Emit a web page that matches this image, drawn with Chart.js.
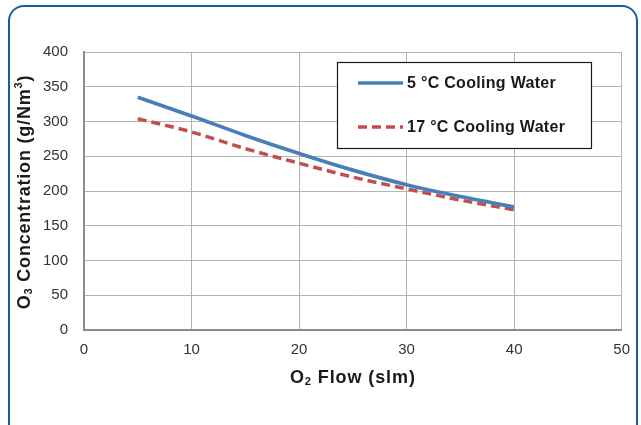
<!DOCTYPE html>
<html>
<head>
<meta charset="utf-8">
<script src="https://cdn.jsdelivr.net/npm/chart.js@4.4.0/dist/chart.umd.min.js"></script>
<style>
  html, body { margin: 0; padding: 0; background: #fff; }
  #wrap { width: 641px; height: 425px; }
</style>
</head>
<body>
<div id="wrap"><canvas id="chart1" width="641" height="425"></canvas></div>
<script>
// values
var flow = [5, 10, 15, 20, 25, 30, 35, 40];
var water5 = [335, 308, 280, 254, 230, 209, 192, 177];
var water17 = [304, 285, 261, 240, 220, 203, 187, 173];
var seriesNames = ['5 \u00B0C Cooling Water', '17 \u00B0C Cooling Water'];
var xTicks = [0, 10, 20, 30, 40, 50];
var yTicks = [0, 50, 100, 150, 200, 250, 300, 350, 400];

function toPoints(xs, ys){
    var pts = [];
    for(var i = 0; i < xs.length; i++){
        pts.push({x: xs[i], y: ys[i]});
    }
    return pts;
}

// subscripted / superscripted text, drawn piece by piece
function drawRich(ctx, parts, x, y, size, spacing){
    ctx.letterSpacing = spacing + 'px';
    var total = 0;
    for(var i = 0; i < parts.length; i++){
        var s = parts[i][1] ? size * 0.62 : size;
        ctx.font = 'bold ' + s + 'px "Liberation Sans", Arial, sans-serif';
        total += ctx.measureText(parts[i][0]).width;
    }
    var cx = x - total / 2;
    for(var j = 0; j < parts.length; j++){
        var p = parts[j];
        var sz = p[1] ? size * 0.62 : size;
        ctx.font = 'bold ' + sz + 'px "Liberation Sans", Arial, sans-serif';
        var dy = 0;
        if(p[1] == 'sub') dy = size * 0.22;
        if(p[1] == 'sup') dy = -size * 0.32;
        ctx.fillText(p[0], cx, y + dy);
        cx += ctx.measureText(p[0]).width;
    }
    ctx.letterSpacing = '0px';
}

var extras = {
    id: 'extras',
    beforeDraw: function(chart){
        var ctx = chart.ctx;
        ctx.save();
        ctx.strokeStyle = '#1b5e94';
        ctx.lineWidth = 2;
        ctx.beginPath();
        ctx.roundRect(9, 6, 628, 440, 15);
        ctx.stroke();
        ctx.restore();
    },
    afterDraw: function(chart){
        var ctx = chart.ctx;
        var area = chart.chartArea;
        ctx.save();
        ctx.fillStyle = '#1a1a1a';
        ctx.textBaseline = 'middle';
        ctx.textAlign = 'left';
        // x axis title
        drawRich(ctx, [['O'], ['2', 'sub'], [' Flow (slm)']], (area.left + area.right) / 2, 378, 18, 0.9);
        // y axis title
        ctx.translate(25, 192);
        ctx.rotate(-Math.PI / 2);
        drawRich(ctx, [['O'], ['3', 'sub'], [' Concentration (g/Nm'], ['3', 'sup'], [')']], 0, 0, 18, 0.8);
        ctx.restore();

        // legend box
        ctx.save();
        ctx.fillStyle = '#fff';
        ctx.fillRect(337, 62, 254, 86);
        ctx.strokeStyle = '#1a1a1a';
        ctx.lineWidth = 1.2;
        ctx.strokeRect(337.5, 62.5, 254, 86);
        var rows = [83, 127];
        for(var i = 0; i < chart.data.datasets.length; i++){
            var ds = chart.data.datasets[i];
            ctx.strokeStyle = ds.borderColor;
            ctx.lineWidth = ds.borderWidth;
            ctx.setLineDash(ds.borderDash || []);
            ctx.beginPath();
            ctx.moveTo(358, rows[i]);
            ctx.lineTo(403, rows[i]);
            ctx.stroke();
            ctx.setLineDash([]);
            ctx.fillStyle = '#1a1a1a';
            ctx.font = 'bold 16px "Liberation Sans", Arial, sans-serif';
            ctx.letterSpacing = '0.3px';
            ctx.textBaseline = 'middle';
            ctx.fillText(ds.label, 407, rows[i] + 1);
            ctx.letterSpacing = '0px';
        }
        ctx.restore();
    }
};

var ctx = document.getElementById('chart1').getContext('2d');
var myChart = new Chart(ctx, {
    type: 'line',
    data: {
        datasets: [{
            label: seriesNames[0],
            data: toPoints(flow, water5),
            borderColor: '#4a7ebb',
            borderWidth: 3.7,
            pointRadius: 0,
            tension: 0.4,
            cubicInterpolationMode: 'monotone',
            fill: false
        }, {
            label: seriesNames[1],
            data: toPoints(flow, water17),
            borderColor: '#c0504d',
            borderWidth: 3.5,
            borderDash: [9, 5],
            pointRadius: 0,
            tension: 0.4,
            cubicInterpolationMode: 'monotone',
            fill: false
        }]
    },
    options: {
        responsive: false,
        animation: false,
        layout: { padding: { left: 0, top: 52, right: 18, bottom: 0 } },
        plugins: {
            legend: { display: false },
            tooltip: { enabled: false }
        },
        scales: {
            x: {
                type: 'linear',
                min: 0,
                max: 50,
                afterBuildTicks: function(s){ s.ticks = xTicks.map(function(v){ return {value: v}; }); },
                afterFit: function(s){ s.height = 95; },
                grid: { color: '#b3b3b3', lineWidth: 1, drawTicks: false },
                border: { color: '#8c8c8c', width: 2 },
                ticks: {
                    padding: 11,
                    color: '#333',
                    font: { family: '"Liberation Sans", Arial, sans-serif', size: 15 }
                }
            },
            y: {
                min: 0,
                max: 400,
                afterBuildTicks: function(s){ s.ticks = yTicks.map(function(v){ return {value: v}; }); },
                afterFit: function(s){ s.width = 84; },
                grid: { color: '#b3b3b3', lineWidth: 1, drawTicks: false },
                border: { color: '#8c8c8c', width: 2 },
                ticks: {
                    padding: 16,
                    color: '#333',
                    font: { family: '"Liberation Sans", Arial, sans-serif', size: 15 }
                }
            }
        }
    },
    plugins: [extras]
});
</script>
</body>
</html>
